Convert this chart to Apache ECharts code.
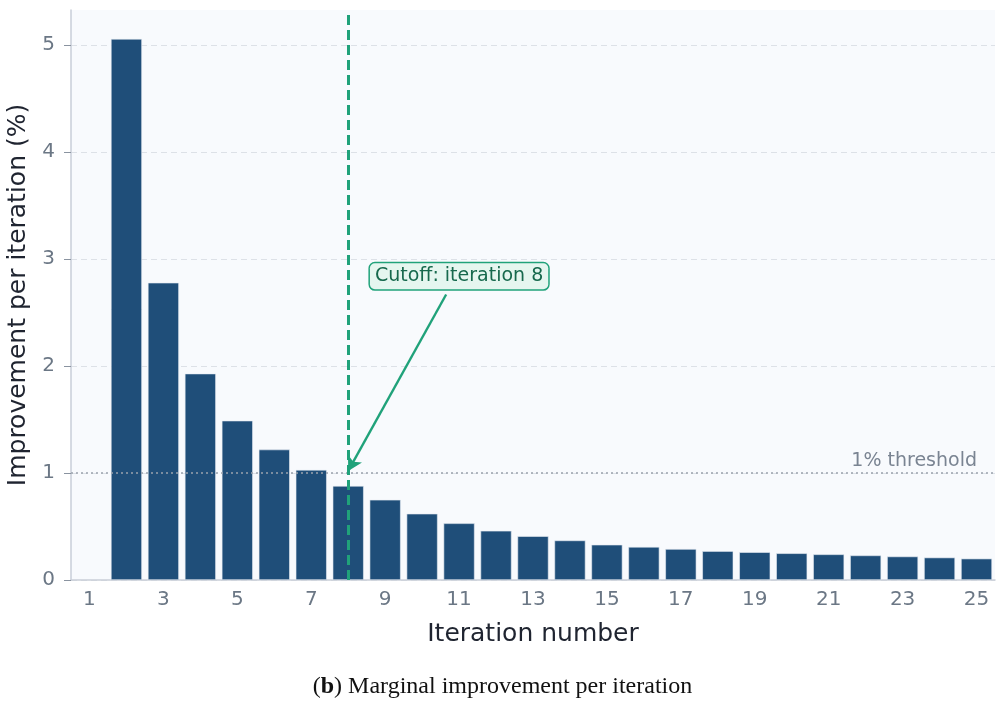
<!DOCTYPE html>
<html>
<head>
<meta charset="utf-8">
<script src="https://cdn.jsdelivr.net/npm/echarts@6/dist/echarts.min.js"></script>
<style>
  html, body { margin: 0; padding: 0; background: #fff; }
  #chart { width: 1005px; height: 713px; }
</style>
</head>
<body>
<div id="chart"></div>
<script>
// iterations 1..25, iteration 1 has no improvement bar
var iterations = ['1','2','3','4','5','6','7','8','9','10','11','12','13','14','15','16','17','18','19','20','21','22','23','24','25'];
var improvement = [null, 5.06, 2.78, 1.93, 1.49, 1.22, 1.03, 0.88, 0.75, 0.62, 0.53, 0.46, 0.41, 0.37, 0.33, 0.31, 0.29, 0.27, 0.26, 0.25, 0.24, 0.23, 0.22, 0.21, 0.20];
var yTicks = [0, 1, 2, 3, 4, 5];
var threshold = 1;
var cutoffIter = '8';
// annotation positions in (iteration, %) units
var labelPos = [11.0, 2.84];
var arrowFrom = [10.65, 2.67];
var arrowTo = [8, 1.02];

var green = '#20a27a';
var gray = '#6b7785';
var font = 'DejaVu Sans';

var chart = echarts.init(document.getElementById('chart'));

var option = {
    animation: false,
    textStyle: { fontFamily: font },
    title: {
        left: 'center',
        top: 670,
        text: '{p|(}{b|b}{p|) Marginal improvement per iteration}',
        textStyle: {
            fontWeight: 'normal',
            rich: {
                p: { fontFamily: 'Liberation Serif', fontSize: 24, fontWeight: 'normal', color: '#111' },
                b: { fontFamily: 'Liberation Serif', fontSize: 24, fontWeight: 'bold', color: '#111' }
            }
        }
    },
    grid: {
        left: 71,
        right: 10,
        top: 10,
        bottom: 133,
        outerBoundsMode: 'none',
        containLabel: false,
        show: true,
        backgroundColor: '#f8fafd',
        borderWidth: 0
    },
    xAxis: [{
        type: 'category',
        data: iterations,
        name: 'Iteration number',
        nameLocation: 'middle',
        nameGap: 42,
        nameTextStyle: { fontSize: 25, color: '#1f2430', fontFamily: font },
        axisLine: { lineStyle: { color: '#c9ced8', width: 1.5 } },
        axisTick: { alignWithLabel: true, interval: 1, length: 7, lineStyle: { color: '#8a93a0' } },
        axisLabel: { interval: 1, fontSize: 20, color: gray, margin: 10, fontFamily: font },
        splitLine: { show: false }
    }, {
        type: 'value',
        min: 0.5,
        max: 25.5,
        show: false
    }],
    yAxis: {
        type: 'value',
        min: 0,
        max: 5.33,
        name: 'Improvement per iteration (%)',
        nameLocation: 'middle',
        nameGap: 28,
        nameTextStyle: { fontSize: 25, color: '#1f2430', fontFamily: font },
        axisLine: { show: true, lineStyle: { color: '#c9ced8', width: 1.5 } },
        axisTick: { show: true, length: 7, customValues: yTicks, lineStyle: { color: '#8a93a0' } },
        axisLabel: { fontSize: 20, color: gray, margin: 16, fontFamily: font, customValues: yTicks },
        splitLine: { show: true, lineStyle: { color: '#dde1e7', type: [6, 4], width: 1 } }
    },
    series: [{
        type: 'bar',
        data: improvement,
        barWidth: '84%',
        itemStyle: { color: '#1f4e79', borderColor: '#e8edf3', borderWidth: 0.6 },
        markLine: {
            silent: true,
            symbol: 'none',
            data: [{
                yAxis: threshold,
                lineStyle: { color: '#9aa2ad', type: [2, 3], width: 1.6 },
                label: {
                    show: true,
                    position: 'insideEndTop',
                    formatter: '1% threshold',
                    color: '#7a8492',
                    fontSize: 19,
                    fontFamily: font,
                    distance: [18, 2]
                }
            }, {
                xAxis: cutoffIter,
                lineStyle: { color: green, type: [10, 5], width: 3 },
                label: { show: false }
            }]
        }
    }, {
        type: 'scatter',
        xAxisIndex: 1,
        data: [],
        markLine: {
            silent: true,
            symbol: ['none', 'arrow'],
            symbolSize: [12, 14],
            lineStyle: { color: green, type: 'solid', width: 2.4 },
            label: { show: false },
            data: [[{ coord: arrowFrom }, { coord: arrowTo }]]
        },
        markPoint: {
            silent: true,
            symbol: 'rect',
            symbolSize: 1,
            itemStyle: { color: 'rgba(0,0,0,0)' },
            data: [{
                coord: labelPos,
                label: {
                    show: true,
                    position: 'inside',
                    formatter: 'Cutoff: iteration 8',
                    color: '#17694d',
                    fontSize: 19,
                    fontFamily: font,
                    backgroundColor: '#e5f6ef',
                    borderColor: green,
                    borderWidth: 1.5,
                    borderRadius: 5,
                    padding: [4, 5, 3, 5]
                }
            }]
        }
    }]
};

chart.setOption(option);
</script>
</body>
</html>
